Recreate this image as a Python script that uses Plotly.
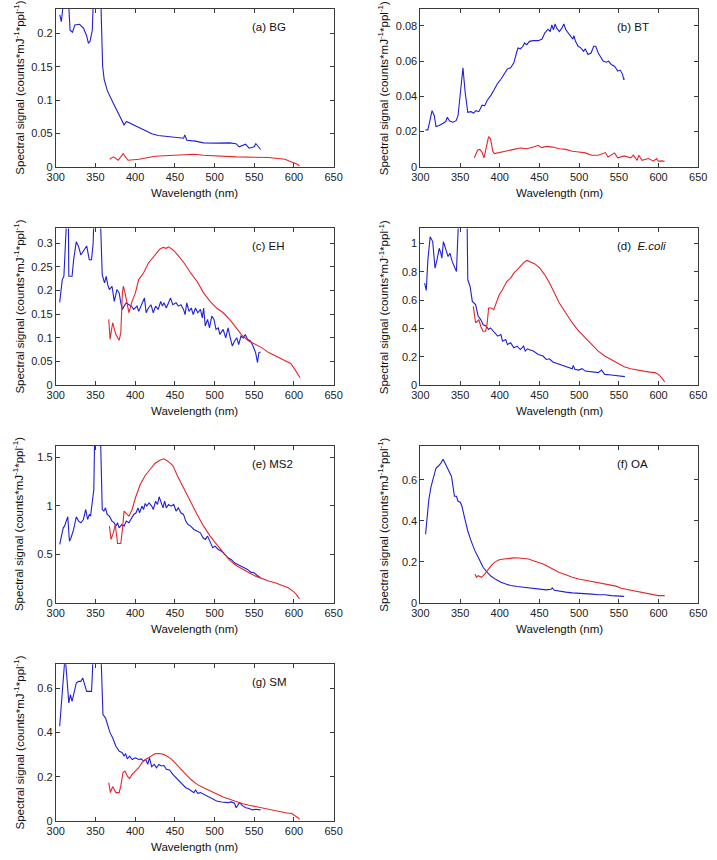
import plotly.graph_objects as go

# ---- data (wavelength in nm, spectral signal) ----
# (a) BG
bg_blue_wl = [305, 307, 309, 311, 314, 315.5, 318, 321, 324, 330, 335, 339, 341, 343, 346, 347.5, 350, 354, 356.5,
              359, 361, 365, 372, 380, 386, 389, 394, 404, 413, 417, 421, 429, 445, 461, 462.5, 465, 476, 486,
              503, 519, 527, 531, 539, 543.5, 550, 552, 554, 558]
bg_blue = [0.228, 0.218, 0.24, 0.4, 0.4, 0.26, 0.205, 0.202, 0.213, 0.214, 0.208, 0.196, 0.186, 0.188, 0.205, 0.26,
           0.6, 0.6, 0.26, 0.151, 0.131, 0.114, 0.0965, 0.077, 0.063, 0.068, 0.065, 0.059, 0.054, 0.052, 0.0495,
           0.047, 0.0445, 0.043, 0.048, 0.040, 0.0386, 0.036, 0.0356, 0.036, 0.0347, 0.030, 0.034, 0.028, 0.030,
           0.0347, 0.032, 0.026]
bg_red_wl = [368, 372.6, 378.7, 384.8, 391, 405, 425, 445, 466, 474, 486, 527, 568, 588.6, 597, 605, 607]
bg_red = [0.0114, 0.0149, 0.0099, 0.0198, 0.0099, 0.0114, 0.0158, 0.0173, 0.0183, 0.0188, 0.0173, 0.0149, 0.0139,
          0.0114, 0.0074, 0.0035, 0.001]

# (b) BT
bt_blue_wl = [306.5, 309.4, 314.7, 317.5, 319.6, 323.7, 328.6, 331.9, 333.9, 336.8, 340.9, 345, 347.4, 350.7, 353.6,
              356.4, 359.7, 363.8, 367, 369.9, 373.6, 377.7, 381, 384.2, 389, 393.2, 397.3, 401.4, 405.5, 409.6,
              413.7, 417.7, 421, 423, 426, 429.2, 431.2, 434, 437.4, 442.3, 448.4, 453.3, 456.6, 460.7, 463.5,
              465.6, 467.6, 469.7, 471.7, 475, 478.2, 480.7, 483.2, 486.4, 489.3, 492.1, 493.4, 495.4, 498.7, 502,
              505.6, 507.7, 511, 515, 518.3, 520.8, 524, 527.3, 530.2, 534.3, 537, 540.4, 544.5, 548.6, 551.8,
              554.7, 556, 557.6]
bt_blue = [0.021, 0.021, 0.0319, 0.029, 0.0229, 0.0234, 0.0247, 0.0257, 0.0281, 0.026, 0.0253, 0.0262, 0.029, 0.044,
           0.0562, 0.0422, 0.0309, 0.0313, 0.0305, 0.0319, 0.0313, 0.035, 0.0347, 0.0378, 0.0407, 0.044, 0.0474,
           0.0497, 0.053, 0.0556, 0.0562, 0.059, 0.0646, 0.0675, 0.067, 0.0684, 0.0703, 0.0693, 0.0712, 0.0716,
           0.0716, 0.0725, 0.0759, 0.0781, 0.0768, 0.0806, 0.0778, 0.0811, 0.0787, 0.0768, 0.0787, 0.0811, 0.0778,
           0.0759, 0.074, 0.0725, 0.0744, 0.0712, 0.0684, 0.0675, 0.0656, 0.067, 0.0637, 0.0646, 0.0684, 0.0684,
           0.0646, 0.0618, 0.06, 0.0594, 0.06, 0.0581, 0.0571, 0.0543, 0.0549, 0.0525, 0.0497, 0.05]
bt_red_wl = [367.9, 372, 374.9, 377.7, 380.1, 383, 385.9, 388.3, 391.2, 393.2, 401.4, 409.6, 417.7, 426, 434, 442.3,
             448.4, 452.5, 458.6, 466.8, 475, 483.2, 491.3, 499.5, 507.7, 515.9, 524, 533, 536.3, 544.5, 548.6,
             556.7, 564.9, 568.2, 573.1, 575.1, 579.2, 587.4, 593.5, 597.6, 599.7, 603.8, 607.8]
bt_red = [0.0051, 0.0094, 0.0099, 0.0081, 0.0051, 0.0122, 0.0172, 0.0159, 0.0088, 0.0075, 0.0084, 0.0094, 0.0099,
          0.0107, 0.0103, 0.0112, 0.0122, 0.0109, 0.0116, 0.0112, 0.0103, 0.0099, 0.0088, 0.0084, 0.0079, 0.0066,
          0.0066, 0.0081, 0.0056, 0.0079, 0.0051, 0.0062, 0.0051, 0.0066, 0.0037, 0.0066, 0.0037, 0.0047, 0.0032,
          0.0047, 0.0032, 0.0034, 0.0032]

# (c) EH
eh_blue_wl = [304.9, 308.2, 310.2, 312.3, 315, 315.6, 316.4, 320.5, 322.5, 325.8, 328.7, 331.5, 335.6, 338.9, 342.2,
              345, 347.1, 348.3, 352, 355.3, 358.5, 361.4, 363.5, 365.5, 367.5, 370.8, 373.7, 377, 379.8, 381.9,
              383.9, 386, 388.8, 392.1, 395.4, 398.2, 402.3, 404.4, 408.5, 411.7, 413.8, 416.7, 419.9, 422.8, 425.7,
              428.9, 432.2, 434.3, 436.3, 439.2, 442, 444.5, 447.4, 451.5, 454.3, 457.6, 460.9, 462.9, 465, 467.8,
              470.7, 473.1, 476, 478.9, 482.2, 484.6, 486.2, 488.3, 491.2, 493.6, 496.5, 499.3, 501.8, 504.7,
              506.7, 510.8, 514.1, 517, 519.8, 522.3, 525.1, 528, 530.4, 533.3, 536.2, 538.6, 541.5, 545.5, 548.4,
              551.7, 554.1, 555.8, 557.9]
eh_blue = [0.175, 0.223, 0.23, 0.4, 0.4, 0.4, 0.23, 0.23, 0.265, 0.303, 0.293, 0.275, 0.286, 0.294, 0.265, 0.265,
           0.3, 0.4, 0.6, 0.4, 0.233, 0.216, 0.23, 0.212, 0.202, 0.209, 0.177, 0.202, 0.195, 0.174, 0.16, 0.167,
           0.174, 0.17, 0.167, 0.16, 0.167, 0.156, 0.174, 0.184, 0.153, 0.163, 0.17, 0.153, 0.167, 0.16, 0.177,
           0.167, 0.174, 0.163, 0.174, 0.184, 0.17, 0.174, 0.167, 0.17, 0.16, 0.149, 0.174, 0.156, 0.163, 0.149,
           0.163, 0.153, 0.16, 0.142, 0.163, 0.125, 0.139, 0.121, 0.146, 0.139, 0.118, 0.121, 0.107, 0.118, 0.1,
           0.121, 0.1, 0.083, 0.093, 0.1, 0.086, 0.104, 0.1, 0.107, 0.097, 0.093, 0.083, 0.069, 0.048, 0.069, 0.07]
eh_red_wl = [366.7, 368.4, 371.6, 375.7, 379.8, 381.9, 383.9, 385.1, 387.2, 390, 392.1, 395.4, 400.3, 404.4, 410.5,
             416.7, 424.8, 431, 435.1, 439.2, 442, 447.4, 453.5, 461.7, 469.9, 478, 486.2, 494.4, 502.6, 510.8, 519,
             527.2, 535.4, 543.5, 551.7, 559.9, 568.1, 576.3, 584.5, 592.7, 595.9, 600.9, 605, 607.8]
eh_red = [0.139, 0.097, 0.132, 0.107, 0.095, 0.111, 0.195, 0.209, 0.195, 0.167, 0.153, 0.174, 0.195, 0.223, 0.237,
          0.258, 0.275, 0.287, 0.291, 0.289, 0.292, 0.286, 0.275, 0.258, 0.237, 0.219, 0.195, 0.177, 0.163, 0.153,
          0.139, 0.121, 0.104, 0.093, 0.086, 0.079, 0.069, 0.062, 0.055, 0.048, 0.046, 0.034, 0.023, 0.016]

# (d) E.coli
ec_blue_wl = [305.3, 307.4, 309.4, 312.3, 315.5, 318.4, 320.9, 323.7, 325.8, 327, 329, 331.9, 334.8, 337.2, 340.1,
              345.4, 348.2, 349.5, 354, 358.5, 359.7, 362.6, 365.4, 369.5, 372.8, 376, 378.9, 383, 385.9, 388.3,
              393.2, 397.3, 401.4, 403.4, 407.5, 409.6, 413.7, 417.7, 421.8, 425.9, 428, 430, 432, 434.9, 438.2,
              442.3, 448.4, 454.5, 458.6, 462.7, 466.8, 475, 483.2, 491.3, 492.6, 494.6, 499.5, 503.6, 507.7, 515.9,
              524, 528.1, 532.2, 540.4, 548.6, 557.6]
ec_blue = [0.72, 0.668, 0.883, 1.047, 1.012, 0.825, 0.883, 0.965, 0.93, 0.895, 1.012, 0.953, 0.907, 0.93, 0.871,
           0.801, 1.08, 1.3, 2.0, 1.3, 0.743, 0.696, 0.591, 0.568, 0.486, 0.463, 0.428, 0.416, 0.393, 0.404, 0.369,
           0.346, 0.357, 0.311, 0.322, 0.287, 0.299, 0.264, 0.276, 0.252, 0.264, 0.276, 0.241, 0.257, 0.248, 0.241,
           0.217, 0.206, 0.182, 0.187, 0.164, 0.147, 0.131, 0.117, 0.14, 0.112, 0.107, 0.117, 0.1, 0.093, 0.089,
           0.107, 0.077, 0.072, 0.065, 0.061]
ec_red_wl = [366.6, 369.5, 372, 373.6, 376, 378.9, 382.2, 384.2, 385.9, 389.1, 392.4, 395.3, 399.3, 403.4, 408.7,
             413.7, 417.7, 423.9, 430, 434.1, 438.2, 444.3, 450.5, 456.6, 462.7, 468.8, 475, 483.2, 491.3, 499.5,
             507.7, 515.9, 524, 532.2, 540.4, 548.6, 556.7, 564.9, 573.1, 581.3, 589.5, 595.6, 599.7, 603.8, 607.8]
ec_red = [0.556, 0.439, 0.451, 0.463, 0.416, 0.381, 0.381, 0.439, 0.544, 0.544, 0.533, 0.579, 0.638, 0.673, 0.731,
          0.755, 0.79, 0.825, 0.864, 0.879, 0.871, 0.855, 0.825, 0.778, 0.72, 0.65, 0.579, 0.509, 0.439, 0.381,
          0.334, 0.287, 0.241, 0.206, 0.182, 0.154, 0.131, 0.117, 0.107, 0.1, 0.093, 0.089, 0.077, 0.054, 0.023]

# (e) MS2
ms2_blue_wl = [304.9, 307.4, 309.4, 311, 313.5, 315.1, 317.2, 319.2, 322.5, 325.8, 328.7, 331.5, 334.8, 337.7, 340.1,
               342.2, 343.8, 346.3, 347.9, 349.1, 352.5, 356.1, 358.5, 360.6, 362.6, 364.7, 367.5, 370.8, 373.7,
               375.7, 377.8, 379.8, 383.1, 386, 388.8, 392.1, 395.4, 398.2, 401.1, 403.6, 405.6, 408.5, 410.5, 412.6,
               414.6, 417.5, 420.8, 422.8, 425.7, 428.1, 430.2, 432.2, 435.1, 437.1, 439.2, 442, 445.3, 448.6,
               451.5, 454.3, 457.6, 460.9, 463.7, 466.6, 469.9, 474, 478, 482.2, 485.4, 488.3, 491.2, 494.4, 497.7,
               500.6, 504.7, 508.8, 512.9, 516.9, 521, 525.1, 529.2, 533.3, 537.4, 541.5, 545.6, 549.7, 553.8, 557.9]
ms2_blue = [0.602, 0.688, 0.774, 0.791, 0.86, 0.888, 0.636, 0.671, 0.757, 0.888, 0.843, 0.826, 0.86, 0.963, 0.86,
            0.912, 0.894, 1.049, 1.17, 1.8, 3.0, 1.8, 0.963, 0.946, 0.98, 0.912, 0.894, 0.843, 0.826, 0.791, 0.826,
            0.774, 0.808, 0.791, 0.843, 0.826, 0.877, 0.912, 0.929, 0.98, 0.929, 0.998, 0.963, 1.025, 0.998, 1.032,
            0.998, 0.963, 1.049, 1.015, 1.094, 1.039, 0.98, 1.049, 0.98, 1.015, 0.998, 1.015, 0.946, 0.98, 0.929,
            0.912, 0.843, 0.808, 0.791, 0.757, 0.74, 0.722, 0.671, 0.654, 0.688, 0.619, 0.568, 0.585, 0.55, 0.533,
            0.499, 0.464, 0.447, 0.413, 0.396, 0.378, 0.361, 0.344, 0.316, 0.31, 0.282, 0.258]
ms2_red_wl = [367.5, 369.6, 372.5, 374.9, 377.8, 381.9, 383.9, 386, 388.8, 392.1, 396.2, 400.3, 406.4, 412.6, 418.7,
              424.8, 431, 436.3, 441.2, 447.4, 453.5, 461.7, 469.9, 478, 486.2, 494.4, 502.6, 510.8, 519, 527.2,
              535.4, 543.5, 551.7, 559.9, 568.1, 576.3, 584.5, 592.7, 598.8, 602.9, 607]
ms2_red = [0.791, 0.654, 0.722, 0.808, 0.612, 0.612, 0.757, 0.946, 0.922, 0.894, 0.963, 1.084, 1.221, 1.314, 1.376,
           1.438, 1.472, 1.486, 1.462, 1.417, 1.307, 1.17, 1.039, 0.912, 0.791, 0.688, 0.602, 0.516, 0.44, 0.385,
           0.344, 0.31, 0.275, 0.248, 0.224, 0.206, 0.182, 0.155, 0.12, 0.086, 0.041]

# (f) OA
oa_blue_wl = [306.5, 308.2, 310.6, 313.5, 316.4, 319.6, 322.9, 325.8, 328.6, 331.1, 333.9, 336.8, 339.2, 341.3,
              342.9, 345.4, 347.4, 350.3, 352.3, 355.6, 359.7, 363.8, 368.7, 373.6, 378.9, 384.2, 389.1, 395.3,
              401.4, 407.5, 413.7, 421.8, 430, 438.2, 444.3, 450.5, 458.6, 464.8, 466, 468.8, 475, 483.2, 491.3,
              499.5, 507.7, 515.9, 524, 532.2, 540.4, 548.6, 556.7]
oa_blue = [0.334, 0.423, 0.503, 0.568, 0.616, 0.656, 0.668, 0.681, 0.7, 0.681, 0.656, 0.632, 0.616, 0.56, 0.519,
           0.519, 0.495, 0.49, 0.471, 0.415, 0.35, 0.302, 0.253, 0.216, 0.173, 0.148, 0.129, 0.113, 0.1, 0.092,
           0.084, 0.079, 0.076, 0.073, 0.068, 0.065, 0.063, 0.066, 0.073, 0.061, 0.056, 0.052, 0.048, 0.047, 0.044,
           0.042, 0.039, 0.039, 0.035, 0.032, 0.031]
oa_red_wl = [368.7, 370.7, 372.8, 376.9, 381, 385, 389.1, 393.2, 399.3, 405.5, 411.6, 417.7, 423.9, 430, 436.1,
             442.3, 448.4, 454.5, 460.7, 466.8, 475, 483.2, 491.3, 499.5, 507.7, 515.9, 524, 532.2, 540.4, 546.5,
             552.7, 560.9, 569, 577.2, 585.4, 593.5, 599.7, 607.8]
oa_red = [0.14, 0.124, 0.132, 0.124, 0.14, 0.161, 0.181, 0.197, 0.21, 0.213, 0.216, 0.219, 0.218, 0.216, 0.213,
          0.205, 0.197, 0.189, 0.177, 0.165, 0.148, 0.137, 0.124, 0.116, 0.11, 0.103, 0.097, 0.09, 0.087, 0.081,
          0.071, 0.065, 0.06, 0.055, 0.048, 0.04, 0.035, 0.035]

# (g) SM
sm_blue_wl = [304.9, 307.4, 309.4, 311, 312.7, 314.3, 316.4, 318.4, 320.5, 322.5, 325.8, 328.7, 331.5, 334, 336.8,
              338.9, 343, 345, 346.3, 347.1, 352, 356.5, 359.4, 362.6, 365.5, 368.4, 371.6, 375.7, 379.8, 383.9,
              386, 388, 390.1, 392.9, 396.2, 400.3, 404.4, 407.7, 410.5, 413.4, 415.8, 417.9, 420.8, 424, 426.9,
              429.8, 433, 436.3, 439.2, 443.3, 447.4, 451.5, 455.5, 459.6, 463.7, 467.8, 471.9, 474, 476, 478.9,
              482.2, 486.2, 490.3, 494.4, 498.5, 502.6, 508.8, 512.9, 516.9, 521, 525.1, 527.2, 529.2, 531.3, 535.4,
              539.5, 543.6, 547.6, 551.7, 557.9]
sm_blue = [0.428, 0.533, 0.653, 0.713, 0.705, 0.638, 0.533, 0.57, 0.54, 0.57, 0.623, 0.63, 0.63, 0.645, 0.615,
           0.585, 0.585, 0.585, 0.683, 0.8, 1.5, 0.8, 0.481, 0.466, 0.428, 0.398, 0.376, 0.338, 0.316, 0.308,
           0.293, 0.305, 0.281, 0.293, 0.278, 0.286, 0.278, 0.281, 0.271, 0.278, 0.256, 0.286, 0.246, 0.256, 0.241,
           0.256, 0.249, 0.251, 0.234, 0.231, 0.211, 0.196, 0.181, 0.166, 0.151, 0.144, 0.136, 0.129, 0.141, 0.126,
           0.129, 0.121, 0.114, 0.106, 0.099, 0.091, 0.087, 0.084, 0.084, 0.087, 0.081, 0.061, 0.076, 0.084, 0.069,
           0.061, 0.057, 0.051, 0.054, 0.051]
sm_red_wl = [366.7, 368.8, 371.6, 373.7, 375.7, 379.8, 381.9, 384.7, 387.2, 390, 392.9, 396.2, 400.3, 404.4, 408.5,
             412.6, 416.7, 420.8, 424.8, 428.9, 433, 437.1, 441.2, 445.3, 449.4, 455.5, 461.7, 469.9, 478, 486.2,
             494.4, 502.6, 510.8, 519, 527.2, 535.4, 543.5, 551.7, 559.9, 568.1, 576.3, 584.5, 592.7, 596.8, 600.9,
             605, 607]
sm_red = [0.174, 0.129, 0.156, 0.144, 0.129, 0.129, 0.159, 0.219, 0.226, 0.204, 0.192, 0.211, 0.226, 0.241, 0.263,
          0.278, 0.286, 0.296, 0.304, 0.305, 0.304, 0.299, 0.29, 0.281, 0.266, 0.241, 0.219, 0.189, 0.166, 0.151,
          0.136, 0.121, 0.109, 0.099, 0.088, 0.079, 0.072, 0.066, 0.06, 0.054, 0.046, 0.042, 0.036, 0.036, 0.027,
          0.016, 0.009]

BLUE = "#1f1fd6"
RED = "#e3262a"
AXIS = "#3a3a3a"
FONT = "Liberation Sans, Arial, sans-serif"
W, H = 717, 860

# (label, blue x, blue y, red x, red y, y max, y dtick, column, row)
panels = [
    ("(a) BG", bg_blue_wl, bg_blue, bg_red_wl, bg_red, 0.237, 0.05, 0, 0),
    ("(b) BT", bt_blue_wl, bt_blue, bt_red_wl, bt_red, 0.0896, 0.02, 1, 0),
    ("(c) EH", eh_blue_wl, eh_blue, eh_red_wl, eh_red, 0.331, 0.05, 0, 1),
    ("(d)  <i>E.coli</i>", ec_blue_wl, ec_blue, ec_red_wl, ec_red, 1.105, 0.2, 1, 1),
    ("(e) MS2", ms2_blue_wl, ms2_blue, ms2_red_wl, ms2_red, 1.62, 0.5, 0, 2),
    ("(f) OA", oa_blue_wl, oa_blue, oa_red_wl, oa_red, 0.765, 0.2, 1, 2),
    ("(g) SM", sm_blue_wl, sm_blue, sm_red_wl, sm_red, 0.707, 0.2, 0, 3),
]

# pixel boxes of the axes
col_px = [(48, 333), (422, 707)]
row_px = [(9, 168), (230, 388), (449, 607), (669, 827)]

fig = go.Figure()
layout = {}
annotations = []
ytitle = "Spectral signal (counts*mJ<sup>-1</sup>*ppl<sup>-1</sup>)"
title_font = dict(family=FONT, size=11.5, color="#111")

for i, (label, bx, by, rx, ry, ymax, dy, c, r) in enumerate(panels):
    n = "" if i == 0 else str(i + 1)
    xa, ya = "x" + n, "y" + n
    fig.add_trace(go.Scatter(x=bx, y=by, mode="lines", line=dict(color=BLUE, width=1.1),
                             xaxis=xa, yaxis=ya, showlegend=False))
    fig.add_trace(go.Scatter(x=rx, y=ry, mode="lines", line=dict(color=RED, width=1.1),
                             xaxis=xa, yaxis=ya, showlegend=False))
    x0, x1 = col_px[c]
    t0, t1 = row_px[r]
    common = dict(showline=True, linecolor=AXIS, linewidth=1, mirror="allticks", ticks="inside",
                  ticklen=4, tickcolor=AXIS, showgrid=False, zeroline=False,
                  ticklabeloverflow="allow",
                  tickfont=dict(family=FONT, size=11, color="#222"))
    layout["xaxis" + n] = dict(domain=[x0 / W, x1 / W], range=[300, 650], dtick=50, tick0=300,
                               anchor=ya, **common)
    layout["yaxis" + n] = dict(domain=[1 - t1 / H, 1 - t0 / H], range=[0, ymax], dtick=dy, tick0=0,
                               anchor=xa, **common)
    annotations.append(dict(text=label, xref=xa + " domain", yref=ya + " domain", x=0.70, y=0.885,
                            xanchor="left", yanchor="middle", showarrow=False, font=title_font))
    annotations.append(dict(text="Wavelength (nm)", xref="paper", yref="paper", x=(x0 + x1) / 2 / W,
                            y=1 - (t1 + 26) / H, xanchor="center", yanchor="middle", showarrow=False,
                            font=title_font))
    annotations.append(dict(text=ytitle, xref="paper", yref="paper", x=(x0 - 38) / W,
                            y=1 - (t0 + t1) / 2 / H, xanchor="center", yanchor="middle",
                            textangle=-90, showarrow=False, font=title_font))

fig.update_layout(
    width=W, height=H,
    margin=dict(l=0, r=0, t=0, b=0),
    paper_bgcolor="white", plot_bgcolor="white",
    annotations=annotations,
    **layout,
)

# the page must not add its own margin or scrollbars around the fixed-size figure
fig.write_html(
    "out.html",
    config={"displayModeBar": False},
    post_script="document.body.style.margin='0';document.documentElement.style.overflow='hidden';",
)
